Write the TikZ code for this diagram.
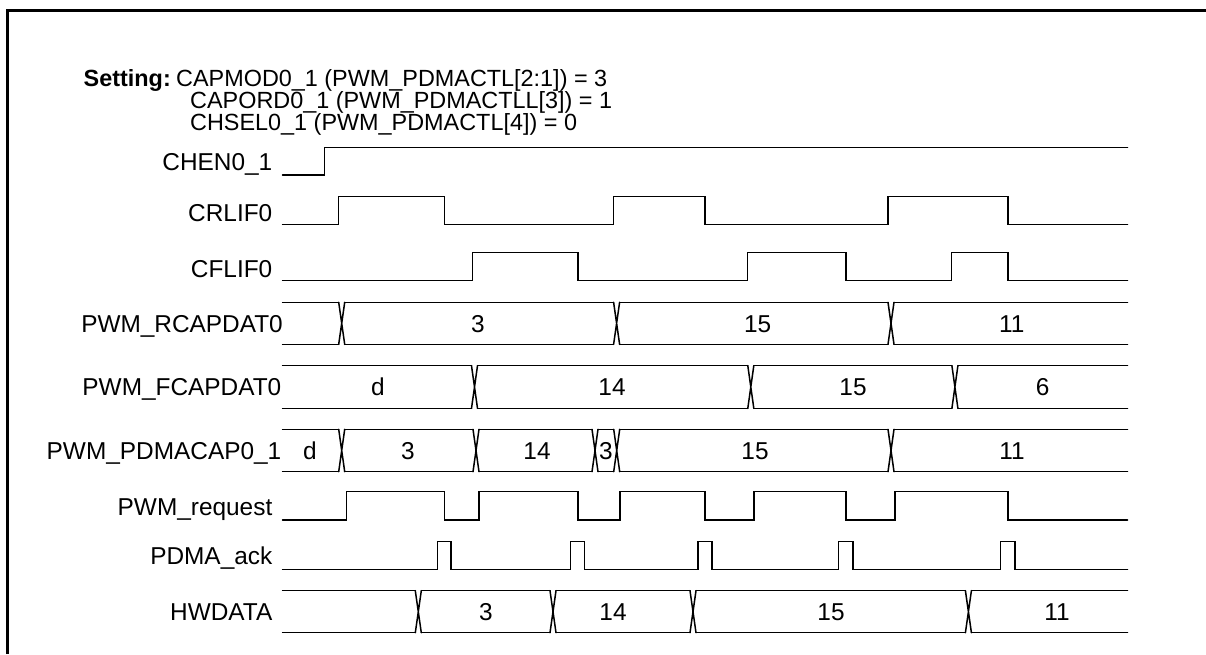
\documentclass[tikz,border=0pt]{standalone}
\usepackage{fontspec}
\setmainfont{Liberation Sans}
\newcommand\sigfont{\fontsize{24.4}{24.4}\selectfont}
\newcommand\setfont{\fontsize{23.4}{23.4}\selectfont}
\newcommand\busrow[3]{%
  \foreach \t [remember=\t as \p (initially 279.5)] in {#3,1130.5}{%
    \draw[sig] (\p+3,#1) -- (\t-3,#1) (\p+3,#2) -- (\t-3,#2);
  }%
  \foreach \t in {#3}{%
    \draw[sig] (\t-3,#1) -- (\t+3,#2) (\t-3,#2) -- (\t+3,#1);
  }%
}
\begin{document}
\begin{tikzpicture}[x=1pt,y=-1pt,
  sig/.style={line width=1.5pt, line join=miter, line cap=round},
  lbl/.style={font=\sigfont, inner sep=0pt, anchor=base east},
  val/.style={font=\sigfont, inner sep=0pt, anchor=base},
  txt/.style={font=\setfont, inner sep=0pt, anchor=base west},
  framestyle/.style={line width=3pt}]
\useasboundingbox (0,0) rectangle (1206,654);
\fill[white] (0,0) rectangle (1206,654);
% frame
\draw[framestyle] (7.5,654) -- (7.5,10) -- (1206,10);
% settings text
\node[font=\setfont\bfseries, inner sep=0pt, anchor=base east] (sethead) at (171,86.4) {Setting:};
\node[txt] (set1) at (176,86.4) {CAPMOD0\_1 (PWM\_PDMACTL[2:1]) = 3};
\node[txt] (set2) at (190,108.6) {CAPORD0\_1 (PWM\_PDMACTLL[3]) = 1};
\node[txt] (set3) at (190,130.8) {CHSEL0\_1 (PWM\_PDMACTL[4]) = 0};
% signal labels
\node[lbl] (lchen) at (272.5,170.5) {CHEN0\_1};
\node[lbl] (lcrl) at (272.5,221.5) {CRLIF0};
\node[lbl] (lcfl) at (272.5,277) {CFLIF0};
\node[lbl] (lrcap) at (283,332) {PWM\_RCAPDAT0};
\node[lbl] (lfcap) at (281.5,395.7) {PWM\_FCAPDAT0};
\node[lbl] (lpcap) at (281.5,459.2) {PWM\_PDMACAP0\_1};
\node[lbl] (lreq) at (272.5,515) {PWM\_request};
\node[lbl] (lack) at (272.5,564.5) {PDMA\_ack};
\node[lbl] (lhw) at (272.5,620.4) {HWDATA};
% CHEN0_1
\draw[sig] (282.5,175) -- (324.5,175) -- (324.5,147.3) -- (1127.5,147.3);
% CRLIF0
\draw[sig] (282.5,224.7) -| (338.3,196.7) -| (444.7,224.7) -| (613.5,196.7) -| (704.8,224.7) -| (888,196.7) -| (1007.8,224.7) -- (1127.5,224.7);
% CFLIF0
\draw[sig] (282.5,280.7) -| (472.6,252.7) -| (577.9,280.7) -| (747.3,252.7) -| (845.8,280.7) -| (951.4,252.7) -| (1007.8,280.7) -- (1127.5,280.7);
% PWM_RCAPDAT0
\busrow{302.3}{344.3}{341.7,616.6,891}
\node[val] (r1) at (478,332) {3};
\node[val] (r2) at (757.7,332) {15};
\node[val] (r3) at (1011.7,332) {11};
% PWM_FCAPDAT0
\busrow{365.7}{408.3}{474.5,750.8,954.9}
\node[val] (f0) at (378,395.7) {d};
\node[val] (f1) at (612,395.7) {14};
\node[val] (f2) at (853,395.7) {15};
\node[val] (f3) at (1042.6,395.7) {6};
% PWM_PDMACAP0_1
\busrow{429.3}{471.7}{341.7,476,595,616.7,891}
\node[val] (p0) at (310,459.2) {d};
\node[val] (p1) at (408,459.2) {3};
\node[val] (p2) at (537,459.2) {14};
\node[val] (p3) at (605.8,459.2) {3};
\node[val] (p4) at (755,459.2) {15};
\node[val] (p5) at (1012,459.2) {11};
% PWM_request
\draw[sig] (282.5,520) -| (346.3,491.7) -| (444.7,520) -| (479.1,491.7) -| (577.9,520) -| (620,491.7) -| (704.8,520) -| (753.8,491.7) -| (845.8,520) -| (895,491.7) -| (1007.8,520) -- (1127.5,520);
% PDMA_ack
\draw[sig] (282.5,569.5) -| (437.3,541.7) -| (451,569.5) -| (570.7,541.7) -| (584.7,569.5) -| (697.8,541.7) -| (712,569.5) -| (838.5,541.7) -| (852.8,569.5) -| (1000.5,541.7) -| (1014.8,569.5) -- (1127.5,569.5);
% HWDATA
\busrow{590.7}{632.7}{418.3,553,693,968.4}
\node[val] (h1) at (486,620.4) {3};
\node[val] (h2) at (613,620.4) {14};
\node[val] (h3) at (831,620.4) {15};
\node[val] (h4) at (1057,620.4) {11};
\end{tikzpicture}
\end{document}
